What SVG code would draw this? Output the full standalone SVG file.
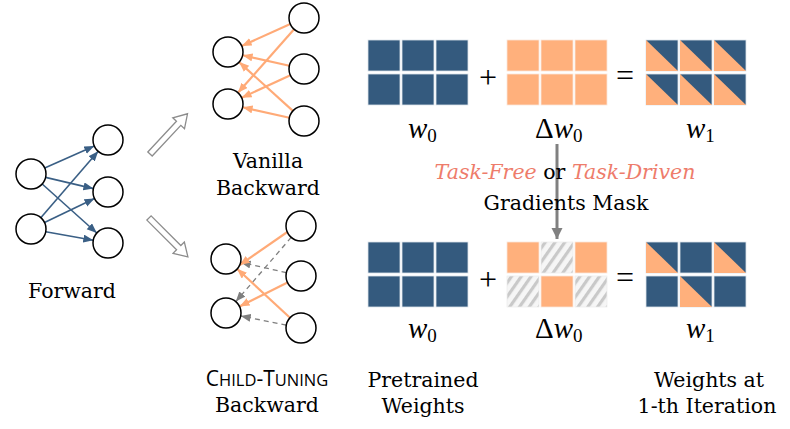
<svg xmlns="http://www.w3.org/2000/svg" width="790" height="429" viewBox="0 0 790 429">
<style>
.node{fill:#fff;stroke:#000;stroke-width:1.5}
.fw{stroke:#3a5f85;stroke-width:1.6;fill:none;marker-end:url(#ab)}
.bw{stroke:#ffaa77;stroke-width:2.2;fill:none;marker-end:url(#ao)}
.dg{stroke:#7f7f7f;stroke-width:1.3;fill:none;stroke-dasharray:5 4;marker-end:url(#ag)}
.hol{fill:#fff;stroke:#8c8c8c;stroke-width:1.3}
.lbl{font-family:"DejaVu Serif","Liberation Serif",serif;font-size:20.5px;fill:#000;text-anchor:middle}
.math{font-family:"Liberation Serif","DejaVu Serif",serif;font-style:italic;font-size:29px;fill:#000}
.sub{font-style:normal;font-size:19px}
.op{font-family:"Liberation Serif","DejaVu Serif",serif;font-size:32px;fill:#000;text-anchor:middle}
.b{fill:#345a7e;stroke:#dde3ea;stroke-width:0.8}
.o{fill:#ffb07c;stroke:#fbe7da;stroke-width:0.8}
.h{fill:url(#hatch);stroke:#eee;stroke-width:0.8}
.tri{fill:#ffb07c}
.task{fill:#ee7c6b;font-style:italic}
</style>
<defs>
<marker id="ab" markerUnits="userSpaceOnUse" markerWidth="11" markerHeight="9" refX="10" refY="4" orient="auto"><path d="M0,0 L10,4 L0,8 Z" fill="#3a5f85"/></marker>
<marker id="ao" markerUnits="userSpaceOnUse" markerWidth="11" markerHeight="9" refX="10" refY="4" orient="auto"><path d="M0,0 L10,4 L0,8 Z" fill="#ffaa77"/></marker>
<marker id="ag" markerUnits="userSpaceOnUse" markerWidth="11" markerHeight="9" refX="10" refY="4" orient="auto"><path d="M0,0 L10,4 L0,8 Z" fill="#7f7f7f"/></marker>
<marker id="agr" markerUnits="userSpaceOnUse" markerWidth="13" markerHeight="12" refX="11" refY="5.5" orient="auto"><path d="M0,0 L11,5.5 L0,11 Z" fill="#808080"/></marker>
<pattern id="hatch" patternUnits="userSpaceOnUse" width="8" height="8" patternTransform="rotate(35)">
<rect width="8" height="8" fill="#f6f6f6"/><rect width="3.2" height="8" fill="#c9c9c9"/>
</pattern>
<path id="hollow" d="M0,-3 L42,-3 L42,-8 L55,0 L42,8 L42,3 L0,3 Z"/>
<g id="tcell"><rect width="32" height="31" class="b"/><path d="M0,0 L32,31 L0,31 Z" class="tri"/></g>
</defs>

<g id="connectors">
<line class="fw" x1="44.7" y1="168" x2="94.3" y2="146.1"/>
<line class="fw" x1="45.6" y1="177.4" x2="93.4" y2="188.6"/>
<line class="fw" x1="42.2" y1="184" x2="96.8" y2="233"/>
<line class="fw" x1="40.8" y1="217.7" x2="98.2" y2="151.3"/>
<line class="fw" x1="44.5" y1="222.5" x2="94.5" y2="198.5"/>
<line class="fw" x1="45.7" y1="231.7" x2="93.3" y2="240.3"/>
<line class="bw" x1="290.3" y1="24.1" x2="241.7" y2="45.9"/>
<line class="bw" x1="294.1" y1="29.2" x2="237.9" y2="92.8"/>
<line class="bw" x1="289.4" y1="65.7" x2="242.6" y2="55.3"/>
<line class="bw" x1="290.4" y1="75.3" x2="241.6" y2="97.7"/>
<line class="bw" x1="292.9" y1="110.9" x2="239.1" y2="62.1"/>
<line class="bw" x1="289.4" y1="117.7" x2="242.6" y2="107.3"/>
<line class="dg" x1="291.2" y1="237.4" x2="235.8" y2="301.6"/>
<line class="dg" x1="286.4" y1="272.7" x2="240.6" y2="262.3"/>
<line class="dg" x1="286.3" y1="325.1" x2="240.7" y2="315.9"/>
<line class="bw" x1="287.3" y1="232" x2="239.7" y2="265"/>
<line class="bw" x1="287.5" y1="282.6" x2="239.5" y2="306.4"/>
<line class="bw" x1="290" y1="317.8" x2="237" y2="268.8"/>
<use href="#hollow" class="hol" transform="translate(150,154) rotate(-47)"/>
<use href="#hollow" class="hol" transform="translate(149,218) rotate(45)"/>
<line x1="557" y1="144" x2="557" y2="239" stroke="#808080" stroke-width="3" marker-end="url(#agr)"/>
</g>

<g id="forward">
<circle class="node" cx="31" cy="174" r="15"/>
<circle class="node" cx="31" cy="229" r="15"/>
<circle class="node" cx="108" cy="140" r="15"/>
<circle class="node" cx="108" cy="192" r="15"/>
<circle class="node" cx="108" cy="243" r="15"/>
<text class="lbl" x="72" y="298">Forward</text>
</g>

<g id="vanilla">
<circle class="node" cx="228" cy="52" r="15"/>
<circle class="node" cx="228" cy="104" r="15"/>
<circle class="node" cx="304" cy="18" r="15"/>
<circle class="node" cx="304" cy="69" r="15"/>
<circle class="node" cx="304" cy="121" r="15"/>
<text class="lbl" x="268" y="168">Vanilla</text>
<text class="lbl" x="268" y="195">Backward</text>
</g>

<g id="child">
<circle class="node" cx="226" cy="259" r="15"/>
<circle class="node" cx="226" cy="313" r="15"/>
<circle class="node" cx="301" cy="226" r="15"/>
<circle class="node" cx="301" cy="276" r="15"/>
<circle class="node" cx="301" cy="328" r="15"/>
<text x="267" y="386" text-anchor="middle" font-family="'Open Sans','DejaVu Sans',sans-serif" font-size="21" fill="#000">C<tspan font-size="16.5">HILD</tspan>-T<tspan font-size="16.5">UNING</tspan></text>
<text class="lbl" x="267" y="412">Backward</text>
</g>

<g id="w0-top">
<rect class="b" x="368" y="40" width="32" height="31"/><rect class="b" x="402" y="40" width="32" height="31"/><rect class="b" x="436" y="40" width="32" height="31"/>
<rect class="b" x="368" y="74" width="32" height="31"/><rect class="b" x="402" y="74" width="32" height="31"/><rect class="b" x="436" y="74" width="32" height="31"/>
<text class="math" x="408" y="138">w<tspan class="sub" dy="4">0</tspan></text>
</g>
<text class="op" x="488" y="88">+</text>
<g id="dw0-top">
<rect class="o" x="507" y="40" width="32" height="31"/><rect class="o" x="541" y="40" width="32" height="31"/><rect class="o" x="575" y="40" width="32" height="31"/>
<rect class="o" x="507" y="74" width="32" height="31"/><rect class="o" x="541" y="74" width="32" height="31"/><rect class="o" x="575" y="74" width="32" height="31"/>
<text class="math" x="535" y="138"><tspan font-style="normal">Δ</tspan>w<tspan class="sub" dy="4">0</tspan></text>
</g>
<text class="op" x="625" y="86">=</text>
<g id="w1-top">
<use href="#tcell" x="646" y="40"/><use href="#tcell" x="680" y="40"/><use href="#tcell" x="714" y="40"/>
<use href="#tcell" x="646" y="74"/><use href="#tcell" x="680" y="74"/><use href="#tcell" x="714" y="74"/>
<text class="math" x="686" y="138">w<tspan class="sub" dy="4">1</tspan></text>
</g>

<g id="mask-label">
<text class="lbl" x="565" y="179"><tspan class="task">Task-Free</tspan> or <tspan class="task">Task-Driven</tspan></text>
<text class="lbl" x="566" y="210">Gradients Mask</text>
</g>

<g id="w0-bottom">
<rect class="b" x="368" y="242" width="32" height="31"/><rect class="b" x="402" y="242" width="32" height="31"/><rect class="b" x="436" y="242" width="32" height="31"/>
<rect class="b" x="368" y="276" width="32" height="31"/><rect class="b" x="402" y="276" width="32" height="31"/><rect class="b" x="436" y="276" width="32" height="31"/>
<text class="math" x="408" y="338">w<tspan class="sub" dy="4">0</tspan></text>
</g>
<text class="op" x="488" y="290">+</text>
<g id="dw0-bottom">
<rect class="o" x="507" y="242" width="32" height="31"/><rect class="h" x="541" y="242" width="32" height="31"/><rect class="o" x="575" y="242" width="32" height="31"/>
<rect class="h" x="507" y="276" width="32" height="31"/><rect class="o" x="541" y="276" width="32" height="31"/><rect class="h" x="575" y="276" width="32" height="31"/>
<text class="math" x="535" y="338"><tspan font-style="normal">Δ</tspan>w<tspan class="sub" dy="4">0</tspan></text>
</g>
<text class="op" x="625" y="288">=</text>
<g id="w1-bottom">
<use href="#tcell" x="646" y="242"/><rect class="b" x="680" y="242" width="32" height="31"/><use href="#tcell" x="714" y="242"/>
<rect class="b" x="646" y="276" width="32" height="31"/><use href="#tcell" x="680" y="276"/><rect class="b" x="714" y="276" width="32" height="31"/>
<text class="math" x="686" y="338">w<tspan class="sub" dy="4">1</tspan></text>
</g>

<g id="bottom-labels">
<text class="lbl" x="423" y="387">Pretrained</text>
<text class="lbl" x="423" y="413">Weights</text>
<text class="lbl" x="709" y="387">Weights at</text>
<text class="lbl" x="707" y="413">1-th Iteration</text>
</g>
</svg>
